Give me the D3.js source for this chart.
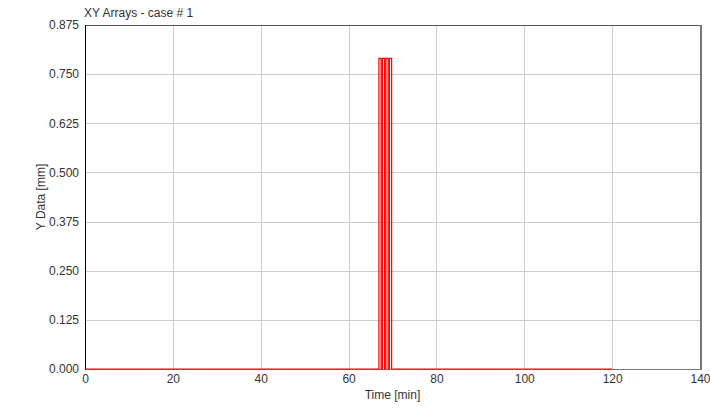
<!DOCTYPE html>
<html><head><meta charset="utf-8">
<script src="https://cdn.jsdelivr.net/npm/d3@7"></script>
<style>body{margin:0;background:#fff;} text{font-family:"Liberation Sans",Arial,sans-serif;}</style>
</head><body>
<svg id="c" width="710" height="408"></svg>
<script>
const timeMin = [0, 66.9, 66.9, 67.4, 67.4, 67.7, 67.7, 68.2, 68.2, 68.5, 68.5, 69.0, 69.0, 69.3, 69.3, 69.8, 69.8, 120];
const yDataMm = [0, 0, 0.79, 0.79, 0, 0, 0.79, 0.79, 0, 0, 0.79, 0.79, 0, 0, 0.79, 0.79, 0, 0];
const xTicks = [0, 20, 40, 60, 80, 100, 120, 140];
const yTicks = [0, 0.125, 0.25, 0.375, 0.5, 0.625, 0.75, 0.875];
const title = "XY Arrays - case # 1";
const xLabel = "Time [min]";
const yLabel = "Y Data [mm]";

const L = 85, R = 700, T = 25, B = 369;
const svg = d3.select("#c");
const x = d3.scaleLinear().domain([0, 140]).range([L, R]);
const y = d3.scaleLinear().domain([0, 0.875]).range([B, T]);

// grid
svg.append("g").selectAll("line").data(xTicks.slice(1, -1)).join("line")
  .attr("x1", d => Math.round(x(d)) + 0.5).attr("x2", d => Math.round(x(d)) + 0.5)
  .attr("y1", T).attr("y2", B).attr("stroke", "#cccccc");
svg.append("g").selectAll("line").data(yTicks.slice(1, -1)).join("line")
  .attr("y1", d => Math.round(y(d)) + 0.5).attr("y2", d => Math.round(y(d)) + 0.5)
  .attr("x1", L).attr("x2", R).attr("stroke", "#cccccc");

// axes labels
const xAxis = d3.axisBottom(x).tickValues(xTicks).tickSize(0).tickPadding(5).tickFormat(d3.format("d"));
const gx = svg.append("g").attr("transform", `translate(0,${B})`).call(xAxis);
gx.select(".domain").remove();
gx.selectAll("text").attr("font-size", 12).attr("fill", "#333").style("font-family", "'Liberation Sans',Arial,sans-serif");

const yAxis = d3.axisLeft(y).tickValues(yTicks).tickSize(0).tickPadding(6).tickFormat(d3.format(".3f"));
const gy = svg.append("g").attr("transform", `translate(${L},0)`).call(yAxis);
gy.select(".domain").remove();
gy.selectAll("text").attr("font-size", 12).attr("fill", "#333").style("font-family", "'Liberation Sans',Arial,sans-serif");

// frame
svg.append("line").attr("x1", L).attr("x2", R).attr("y1", T + 0.5).attr("y2", T + 0.5).attr("stroke", "#555");
svg.append("line").attr("x1", R + 1).attr("x2", R + 1).attr("y1", T).attr("y2", B + 1).attr("stroke", "#777").attr("stroke-width", 2);
svg.append("line").attr("x1", L).attr("x2", R).attr("y1", B + 0.5).attr("y2", B + 0.5).attr("stroke", "#777");
svg.append("line").attr("x1", L + 0.5).attr("x2", L + 0.5).attr("y1", T).attr("y2", B + 1).attr("stroke", "#000");

// data
const line = d3.line().x((d, i) => x(timeMin[i])).y(d => y(d));
svg.append("path").datum(yDataMm).attr("d", line)
  .attr("fill", "none").attr("stroke", "#ff0000").attr("stroke-width", 1.2);

// titles
svg.append("text").attr("x", L - 1).attr("y", 17).attr("font-size", 12).attr("fill", "#333").text(title);
svg.append("text").attr("x", (L + R) / 2).attr("y", 399).attr("text-anchor", "middle").attr("font-size", 12).attr("fill", "#333").text(xLabel);
svg.append("text").attr("transform", `translate(45,${(T + B) / 2}) rotate(-90)`).attr("text-anchor", "middle").attr("font-size", 12).attr("fill", "#333").text(yLabel);
</script>
</body></html>
